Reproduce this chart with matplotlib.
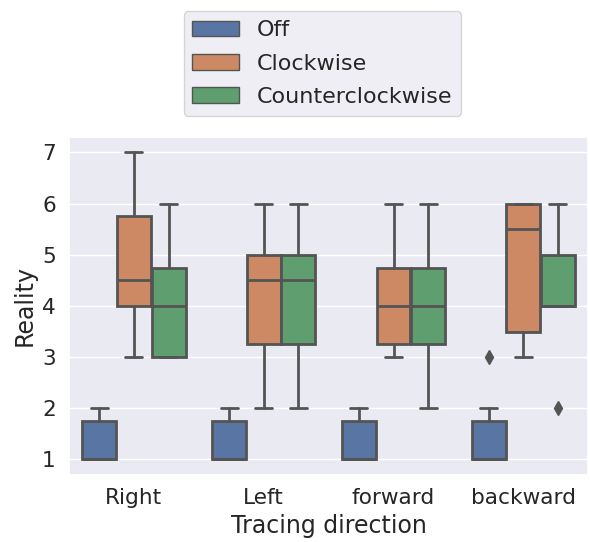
import matplotlib
matplotlib.use("Agg")
import matplotlib.pyplot as plt
import matplotlib.patches as mpatches
import seaborn as sns

directions = ["Right", "Left", "forward", "backward"]
conditions = ["Off", "Clockwise", "Counterclockwise"]

# box statistics per condition, one value per direction
q1 = {
    "Off": [1, 1, 1, 1],
    "Clockwise": [4, 3.25, 3.25, 3.5],
    "Counterclockwise": [3, 3.25, 3.25, 4],
}
med = {
    "Off": [1, 1, 1, 1],
    "Clockwise": [4.5, 4.5, 4, 5.5],
    "Counterclockwise": [4, 4.5, 4, 4],
}
q3 = {
    "Off": [1.75, 1.75, 1.75, 1.75],
    "Clockwise": [5.75, 5, 4.75, 6],
    "Counterclockwise": [4.75, 5, 4.75, 5],
}
whislo = {
    "Off": [1, 1, 1, 1],
    "Clockwise": [3, 2, 3, 3],
    "Counterclockwise": [3, 2, 2, 4],
}
whishi = {
    "Off": [2, 2, 2, 2],
    "Clockwise": [7, 6, 6, 6],
    "Counterclockwise": [6, 6, 6, 6],
}
fliers = {
    "Off": [[], [], [], [3]],
    "Clockwise": [[], [], [], []],
    "Counterclockwise": [[], [], [], [2]],
}

sns.set_theme(style="darkgrid", font_scale=1.42)
colors = [sns.desaturate(c, 0.75) for c in sns.color_palette("deep", 3)]
gray = (0.33, 0.33, 0.33)
lw = 2.0

fig = plt.figure(figsize=(5.9, 5.42), dpi=100)
ax = fig.add_axes([0.117, 0.124, 0.88, 0.623])

each = 0.8 / len(conditions)
for j, cond in enumerate(conditions):
    stats = []
    for i in range(len(directions)):
        stats.append(dict(med=med[cond][i], q1=q1[cond][i], q3=q3[cond][i],
                          whislo=whislo[cond][i], whishi=whishi[cond][i],
                          fliers=fliers[cond][i]))
    pos = [i + (j - 1) * each for i in range(len(directions))]
    ax.bxp(stats, positions=pos, widths=each * 0.98, patch_artist=True,
           manage_ticks=False,
           boxprops=dict(facecolor=colors[j], edgecolor=gray, linewidth=lw),
           medianprops=dict(color=gray, linewidth=lw),
           whiskerprops=dict(color=gray, linewidth=lw),
           capprops=dict(color=gray, linewidth=lw),
           flierprops=dict(marker="d", markerfacecolor=gray, markeredgecolor=gray,
                           markersize=7))

ax.set_xlim(-0.5, len(directions) - 0.5)
ax.set_ylim(0.7, 7.3)
ax.set_xticks(range(len(directions)))
ax.set_xticklabels(directions)
ax.set_yticks([1, 2, 3, 4, 5, 6, 7])
ax.xaxis.grid(False)
ax.set_xlabel("Tracing direction")
ax.set_ylabel("Reality")

handles = [mpatches.Patch(facecolor=colors[j], edgecolor=gray, linewidth=1, label=c)
           for j, c in enumerate(conditions)]
ax.legend(handles=handles, loc="lower center", bbox_to_anchor=(0.488, 1.03),
          fontsize=16, labelspacing=0.6, handlelength=2.1)

fig.savefig("out.png")
